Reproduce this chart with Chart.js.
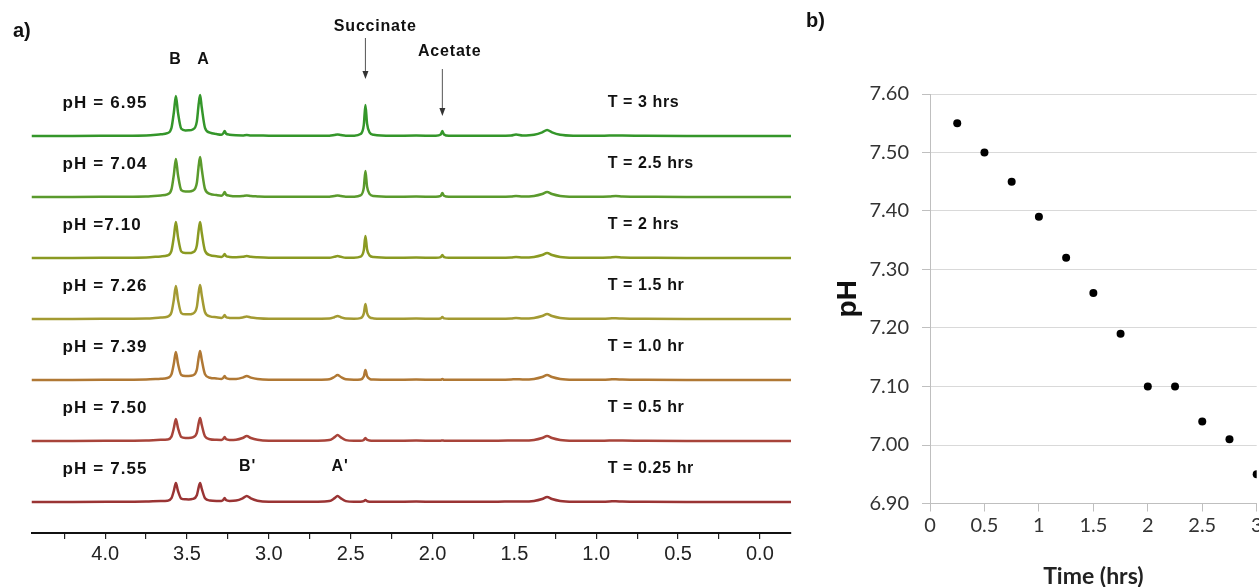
<!DOCTYPE html>
<html>
<head>
<meta charset="utf-8">
<script src="https://cdn.jsdelivr.net/npm/chart.js@4.4.0/dist/chart.umd.min.js"></script>
<style>
  html, body { margin: 0; padding: 0; background: #fff; overflow: hidden; width: 1259px; height: 587px; }
  #nmr { position: absolute; left: 0; top: 0; }
  #phchart { position: absolute; left: 820px; top: 0; }
  .tag { position: absolute; font: bold 20px "Liberation Sans", Arial, sans-serif; color: #111; line-height: 20px; }
</style>
</head>
<body>
<canvas id="nmr" width="820" height="587"></canvas>
<canvas id="phchart" width="460" height="587"></canvas>
<div class="tag" style="left:13px;top:20px">a)</div>
<div class="tag" style="left:806px;top:10px">b)</div>
<script>
// chemical shift grid (ppm) shared by all spectra
const ppm = [4.45, 4.2, 3.9, 3.75, 3.66, 3.62, 3.595, 3.58, 3.568, 3.555, 3.535, 3.51, 3.49, 3.465, 3.44, 3.428, 3.42, 3.41, 3.39, 3.36,
  3.32, 3.29, 3.278, 3.27, 3.262, 3.24, 3.2, 3.16, 3.135, 3.11, 3.07, 3.0, 2.85, 2.7, 2.63, 2.6, 2.58, 2.56, 2.53, 2.48,
  2.44, 2.42, 2.41, 2.40, 2.385, 2.36, 2.25, 2.1, 1.98, 1.95, 1.94, 1.93, 1.9, 1.8, 1.6, 1.52, 1.49, 1.45, 1.38, 1.33,
  1.30, 1.27, 1.22, 1.14, 1.0, 0.92, 0.88, 0.84, 0.7, 0.45, 0.2, -0.19];

// intensities (top trace first)
const specT3 = [0, 0, 0.3, 0.5, 1.7, 2.8, 8, 24, 40, 23.2, 7.2, 5.6, 5.7, 6.5, 14.4, 32.8, 41, 28.7, 8.2, 3.3,
  1.9, 1.3, 2.8, 5, 2.5, 1.3, 0.7, 0.6, 1, 0.6, 0.6, 0.3, 0.3, 0.3, 0.2, 0.9, 1.5, 0.9, 0.2, 0.3,
  1.9, 10.9, 31, 12.4, 3.7, 1.2, 0.2, 0.4, 0.3, 1.5, 5, 1.5, 0.2, 0.3, 0.3, 0.5, 1.5, 0.5, 1.2, 3.6,
  6, 3.6, 1.2, 0.3, 0.2, 0.5, 0.6, 0.4, 0.2, 0.1, 0.1, 0];
const specT25 = [0, 0, 0.3, 0.5, 1.6, 2.7, 7.6, 22.8, 38, 22, 6.8, 5.4, 5.5, 6.3, 14, 32, 40, 28, 8, 3.2,
  1.9, 1.3, 2.8, 5, 2.5, 1.3, 0.7, 0.9, 1.5, 0.9, 0.6, 0.3, 0.3, 0.3, 0.2, 0.9, 1.5, 0.9, 0.2, 0.3,
  1.6, 9.1, 26, 10.4, 3.1, 1, 0.2, 0.4, 0.3, 1.2, 4, 1.2, 0.2, 0.3, 0.3, 0.5, 1, 0.5, 1.1, 3,
  5, 3, 1.1, 0.3, 0.2, 0.5, 1, 0.4, 0.2, 0.1, 0.1, 0];
const specT2 = [0, 0, 0.3, 0.5, 1.6, 2.5, 7.2, 21.6, 36, 20.9, 6.5, 5, 5, 5.7, 12.6, 28.8, 36, 25.2, 7.2, 2.9,
  1.7, 1.1, 2.2, 4, 2, 1.1, 0.8, 1.2, 2, 1.2, 0.7, 0.3, 0.3, 0.3, 0.3, 1.2, 2, 1.2, 0.3, 0.3,
  1.3, 7.7, 22, 8.8, 2.6, 0.9, 0.2, 0.4, 0.3, 0.9, 3, 0.9, 0.2, 0.3, 0.3, 0.5, 1, 0.5, 1.1, 3,
  5, 3, 1.1, 0.3, 0.2, 0.5, 1, 0.4, 0.2, 0.1, 0.1, 0];
const specT15 = [0, 0, 0.3, 0.5, 1.5, 2.3, 6.6, 19.8, 33, 19.1, 5.9, 4.7, 4.7, 5.4, 11.9, 27.2, 34, 23.8, 6.8, 2.7,
  1.7, 1.1, 2.2, 4, 2, 1.1, 0.9, 1.5, 2.5, 1.5, 0.8, 0.3, 0.3, 0.3, 0.45, 1.8, 3, 1.8, 0.45, 0.3,
  0.9, 5.3, 15, 6, 1.8, 0.6, 0.2, 0.4, 0.3, 0.6, 2, 0.6, 0.2, 0.3, 0.3, 0.5, 1, 0.5, 1.1, 3,
  5, 3, 1.1, 0.3, 0.2, 0.5, 0.8, 0.4, 0.2, 0.1, 0.1, 0];
const specT1 = [0, 0, 0.3, 0.5, 1.3, 2, 5.6, 16.8, 28, 16.2, 5, 4, 4, 4.6, 10.2, 23.2, 29, 20.3, 5.8, 2.3,
  1.5, 1.1, 2.2, 4, 2, 1.1, 1.1, 2.4, 4, 2.4, 1, 0.3, 0.3, 0.3, 0.75, 3, 5, 3, 0.75, 0.3,
  0.6, 3.5, 10, 4, 1.2, 0.4, 0.2, 0.4, 0.3, 0.3, 1, 0.3, 0.2, 0.3, 0.3, 0.5, 0.8, 0.5, 1.1, 3,
  5, 3, 1.1, 0.3, 0.2, 0.5, 0.8, 0.4, 0.2, 0.1, 0.1, 0];
const specT05 = [0, 0, 0.3, 0.5, 1.2, 1.5, 4.4, 13.2, 22, 12.8, 4, 3.1, 3.1, 3.7, 8.1, 18.4, 23, 16.1, 4.6, 1.8,
  1.2, 1.1, 2.2, 4, 2, 1.1, 1.3, 3, 5, 3, 1.2, 0.3, 0.3, 0.3, 0.9, 3.6, 6, 3.6, 0.9, 0.3,
  0.3, 1.1, 3, 1.2, 0.4, 0.2, 0.2, 0.4, 0.3, 0.3, 0.5, 0.3, 0.2, 0.3, 0.3, 0.5, 0.6, 0.5, 1.1, 3,
  5, 3, 1.1, 0.3, 0.2, 0.5, 0.6, 0.4, 0.2, 0.1, 0.1, 0];
const specT025 = [0, 0, 0.3, 0.5, 1.1, 1.3, 3.8, 11.4, 19, 11, 3.4, 2.7, 2.6, 3.1, 6.7, 15.2, 19, 13.3, 3.8, 1.5,
  1.1, 1.1, 2.2, 4, 2, 1.1, 1.4, 3.6, 6, 3.6, 1.3, 0.3, 0.3, 0.3, 0.9, 3.6, 6, 3.6, 0.9, 0.3,
  0.3, 0.8, 2, 0.8, 0.3, 0.2, 0.2, 0.4, 0.3, 0.3, 0.3, 0.3, 0.2, 0.3, 0.3, 0.5, 0.5, 0.5, 1.1, 3,
  5, 3, 1.1, 0.3, 0.2, 0.5, 0.8, 0.4, 0.2, 0.1, 0.1, 0];

const spectra = [specT3, specT25, specT2, specT15, specT1, specT05, specT025];
const phLabels = ["pH = 6.95", "pH = 7.04", "pH =7.10", "pH = 7.26", "pH = 7.39", "pH = 7.50", "pH = 7.55"];
const timeLabels = ["T = 3 hrs", "T = 2.5 hrs", "T = 2 hrs", "T = 1.5 hr", "T = 1.0 hr", "T = 0.5 hr", "T = 0.25 hr"];
const lineColors = ["#34962a", "#5a9a2c", "#8a9a22", "#a39a32", "#b07834", "#a8443a", "#9a3434"];

// peak labels: [text, ppm]
const topPeaks = [["B", 3.57], ["A", 3.40]];
const primePeaks = [["B'", 3.13], ["A'", 2.565]];
const arrowPeaks = [["Succinate", 2.41, 2.35], ["Acetate", 1.94, 1.895]];

// panel b data
const times = [0.25, 0.5, 0.75, 1, 1.25, 1.5, 1.75, 2, 2.25, 2.5, 2.75, 3];
const phValues = [7.55, 7.50, 7.45, 7.39, 7.32, 7.26, 7.19, 7.10, 7.10, 7.04, 7.01, 6.95];

const STEP = 61;
const n = spectra.length;
const BOLD = 'bold 16px "Liberation Sans", Arial, sans-serif';

const nmrLabels = {
  id: "nmrLabels",
  afterDraw(chart) {
    const { ctx, scales: { x, y } } = chart;
    ctx.save();
    ctx.fillStyle = "#111";
    ctx.textBaseline = "middle";
    const topBase = y.getPixelForValue((n - 1) * STEP);
    const botBase = y.getPixelForValue(0);

    spectra.forEach((s, i) => {
      const base = y.getPixelForValue((n - 1 - i) * STEP);
      ctx.textAlign = "left";
      ctx.font = 'bold 17px "Liberation Sans", Arial, sans-serif';
      ctx.letterSpacing = "1.1px";
      ctx.fillText(phLabels[i], x.getPixelForValue(4.26), base - 33);
      ctx.font = BOLD;
      ctx.letterSpacing = "0.6px";
      ctx.fillText(timeLabels[i], x.getPixelForValue(0.93), base - 33);
    });

    ctx.textAlign = "center";
    ctx.letterSpacing = "0.8px";
    topPeaks.forEach(([t, p]) => ctx.fillText(t, x.getPixelForValue(p), topBase - 76));
    primePeaks.forEach(([t, p]) => ctx.fillText(t, x.getPixelForValue(p), botBase - 35));

    // arrows with their names
    const arrowSpecs = [[topBase - 109, topBase - 98, topBase - 57], [topBase - 84, topBase - 67, topBase - 20]];
    arrowPeaks.forEach(([t, p, tp], k) => {
      const [ty, y1, y2] = arrowSpecs[k];
      const ax = x.getPixelForValue(p);
      ctx.fillStyle = "#111";
      ctx.fillText(t, x.getPixelForValue(tp), ty);
      ctx.strokeStyle = "#555";
      ctx.lineWidth = 1;
      ctx.beginPath();
      ctx.moveTo(ax, y1);
      ctx.lineTo(ax, y2 - 6);
      ctx.stroke();
      ctx.fillStyle = "#333";
      ctx.beginPath();
      ctx.moveTo(ax - 3, y2 - 8);
      ctx.lineTo(ax + 3, y2 - 8);
      ctx.lineTo(ax, y2);
      ctx.closePath();
      ctx.fill();
    });
    ctx.restore();
  }
};

new Chart(document.getElementById("nmr"), {
  type: "line",
  data: {
    datasets: spectra.map((s, i) => ({
      data: ppm.map((p, j) => ({ x: p, y: s[j] + (n - 1 - i) * STEP })),
      borderColor: lineColors[i],
      borderWidth: 2.5,
      pointRadius: 0,
      cubicInterpolationMode: "monotone",
      fill: false
    }))
  },
  options: {
    responsive: false,
    animation: false,
    layout: { padding: { left: 31.5, right: 29, top: 62, bottom: 0 } },
    plugins: { legend: { display: false }, tooltip: { enabled: false } },
    scales: {
      x: {
        type: "linear",
        reverse: true,
        min: -0.19,
        max: 4.45,
        ticks: {
          stepSize: 0.25,
          includeBounds: false,
          autoSkip: false,
          maxRotation: 0,
          padding: 3,
          color: "#222",
          font: { family: '"Liberation Sans Narrow", "Liberation Sans", sans-serif', size: 20 },
          callback: (v) => (Math.abs(v * 2 - Math.round(v * 2)) < 1e-6 ? Math.abs(v).toFixed(1) : "")
        },
        grid: { drawOnChartArea: false, tickLength: 6, color: "#222", lineWidth: 1.2 },
        border: { color: "#111", width: 2 },
        afterFit: (s) => { s.height = 54; }
      },
      y: { display: false, min: -31, max: 440 }
    }
  },
  plugins: [nmrLabels]
});

new Chart(document.getElementById("phchart"), {
  type: "scatter",
  data: {
    datasets: [{
      data: times.map((t, i) => ({ x: t, y: phValues[i] })),
      pointRadius: 4,
      pointBackgroundColor: "#000",
      pointBorderWidth: 0
    }]
  },
  options: {
    responsive: false,
    animation: false,
    layout: { padding: { left: 0, right: 23.3, top: 94, bottom: 0 } },
    plugins: { legend: { display: false }, tooltip: { enabled: false } },
    scales: {
      x: {
        min: 0,
        max: 3,
        ticks: { stepSize: 0.5, maxRotation: 0, padding: 2, color: "#333", font: { family: "Lato", size: 20 }, callback: (v) => String(v) },
        grid: { drawOnChartArea: false, tickLength: 8, color: "#bfbfbf" },
        border: { color: "#bfbfbf", width: 1 },
        title: { display: true, text: "Time (hrs)", color: "#222", font: { family: "Lato", size: 23, weight: "bold" }, padding: { top: 0, bottom: -3 } },
        afterFit: (s) => { s.height = 83.5; }
      },
      y: {
        min: 6.9,
        max: 7.6,
        ticks: { stepSize: 0.1, padding: 13, color: "#333", font: { family: "Lato", size: 20 }, callback: (v) => v.toFixed(2) },
        grid: { color: "#d9d9d9", tickLength: 8, tickColor: "#bfbfbf" },
        border: { color: "#bfbfbf", width: 1 },
        title: { display: true, text: "pH", color: "#111", font: { family: '"Liberation Sans", Arial, sans-serif', size: 28, weight: "bold" }, padding: { top: 11, bottom: 0 } },
        afterFit: (s) => { s.width = 110; }
      }
    }
  }
});
</script>
</body>
</html>
